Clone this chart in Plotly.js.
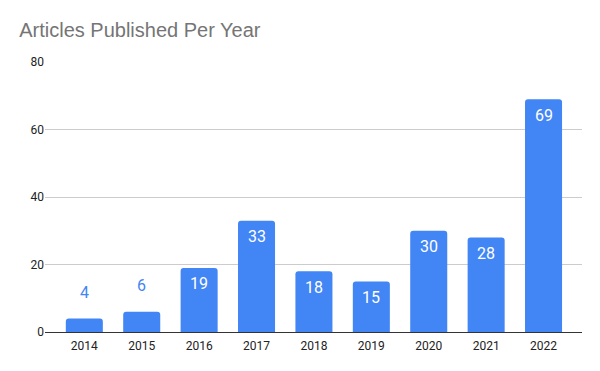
<!DOCTYPE html>
<html>
<head>
<meta charset="utf-8">
<script src="https://cdn.plot.ly/plotly-3.0.1.min.js"></script>
<style>html,body{margin:0;padding:0;background:#fff}#chart{width:600px;height:371px}</style>
</head>
<body>
<div id="chart"></div>
<script>
const years = ['2014','2015','2016','2017','2018','2019','2020','2021','2022'];
const articles = [4, 6, 19, 33, 18, 15, 30, 28, 69];
const yTicks = [0, 20, 40, 60, 80];

const blue = '#4285F4';
const insideThreshold = 10;

const annotations = years.map(function (yr, i) {
  var v = articles[i];
  var inside = v >= insideThreshold;
  return {
    x: i, y: v, xref: 'x', yref: 'y',
    text: String(v), showarrow: false,
    xanchor: 'center', yanchor: 'middle',
    yshift: inside ? -16 : 26,
    font: {family: 'Roboto', size: 16, color: inside ? '#ffffff' : blue}
  };
});

const data = [{
  type: 'bar',
  x: years,
  y: articles,
  marker: {color: blue},
  width: 0.645,
  hoverinfo: 'none'
}];

const layout = {
  width: 600, height: 371,
  margin: {l: 45, r: 18, t: 62, b: 39},
  paper_bgcolor: '#fff', plot_bgcolor: '#fff',
  barcornerradius: 3,
  title: {
    text: 'Articles Published Per Year',
    x: 0.032, xref: 'container', xanchor: 'left',
    y: 1, yref: 'container', yanchor: 'top',
    pad: {t: 23},
    font: {family: 'Liberation Sans, Arial, sans-serif', size: 20, color: '#757575'}
  },
  font: {family: 'Roboto', size: 12, color: '#222'},
  xaxis: {
    type: 'category',
    range: [-0.685, 8.67],
    showgrid: false,
    showline: true, linecolor: '#333', linewidth: 1,
    ticks: '',
    ticklabelstandoff: 3,
    tickfont: {size: 12, color: '#222'},
    fixedrange: true
  },
  yaxis: {
    range: [0, 80],
    tickvals: yTicks,
    ticktext: yTicks.map(String),
    showgrid: true, gridcolor: '#cccccc', gridwidth: 1,
    zeroline: false,
    showline: false,
    ticks: '',
    tickfont: {size: 12, color: '#222'},
    fixedrange: true
  },
  annotations: annotations,
  showlegend: false
};

Plotly.newPlot('chart', data, layout, {displayModeBar: false});
</script>
</body>
</html>
